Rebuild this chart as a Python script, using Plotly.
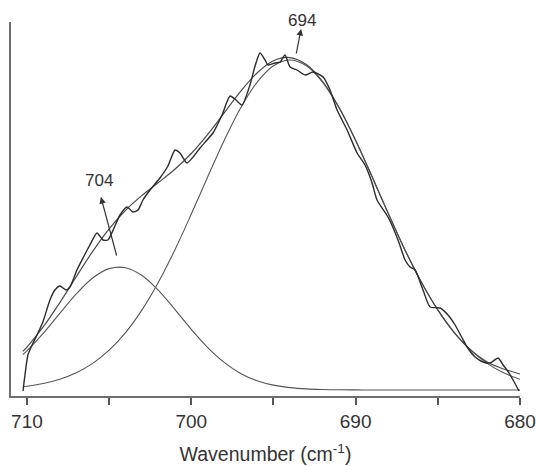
import plotly.graph_objects as go

# ---- data (intensity in arbitrary units) ----
raw_wn = [710.24, 710.12, 709.94, 709.63, 709.33, 709.03, 708.60, 708.30, 707.99, 707.63,
          707.38, 706.96, 706.59, 706.17, 705.74, 705.37, 705.07, 704.70, 704.34, 703.91,
          703.55, 703.24, 702.94, 702.51, 701.91, 701.42, 700.99, 700.69, 700.26, 699.84,
          699.47, 699.04, 698.68, 698.13, 697.64, 697.28, 696.91, 696.43, 696.12, 695.82,
          695.51, 695.33, 694.91, 694.60, 694.30, 693.99, 693.57, 693.08, 692.59, 691.98,
          691.56, 691.13, 690.52, 689.91, 689.43, 689.00, 688.70, 688.03, 687.42, 686.99,
          686.69, 686.38, 685.90, 685.47, 684.86, 684.38, 683.95, 683.52, 683.22, 682.73,
          682.25, 681.82, 681.33, 681.03, 680.79, 680.42, 680.06]
raw_int = [5, 21, 41, 53, 63, 74, 96, 106, 110, 106,
           109, 126, 138, 151, 163, 156, 156, 168, 181, 189,
           184, 186, 196, 206, 218, 230, 246, 243, 233, 240,
           248, 256, 263, 281, 300, 296, 291, 311, 330, 343,
           336, 331, 333, 334, 341, 329, 326, 321, 324, 319,
           306, 286, 266, 243, 231, 213, 196, 179, 156, 136,
           129, 126, 106, 89, 88, 81, 71, 58, 49, 39,
           34, 33, 38, 31, 26, 16, 5]

fit_wn = [710.25, 710, 709, 708, 707, 706, 705, 704, 703, 702, 701, 700, 699, 698, 697,
          696, 695, 694, 693, 692, 691, 690, 689, 688, 687, 686, 685, 684, 683, 682,
          681, 680]
fit_sum = [44.6, 48.9, 69.3, 93.3, 119.3, 144.6, 167.2, 185.7, 200.6, 213.5, 226.8, 242.5,
           261.6, 283.1, 304.6, 323.0, 335.2, 338.4, 331.4, 314.2, 288.2, 255.6, 219.2,
           181.9, 146.1, 113.8, 86.1, 63.4, 46.0, 34.0, 27.0, 22.0]
peak_704 = [41.3, 45.1, 62.8, 82.6, 102.1, 118.0, 127.4, 128.3, 120.5, 105.7, 86.7, 66.6,
            48.4, 33.6, 22.6, 15.3, 10.9, 8.4, 7.1, 6.5, 6.2, 6.1, 6.0, 6.0, 6.0, 6.0,
            6.0, 6.0, 6.0, 6.0, 6.0, 6.0]
peak_694 = [9.3, 9.8, 12.5, 16.7, 23.2, 32.6, 45.8, 63.4, 86.1, 113.8, 146.1, 181.9,
            219.2, 255.5, 288.0, 313.7, 330.3, 336.0, 330.3, 313.7, 288.0, 255.5, 219.2,
            181.9, 146.1, 113.8, 86.1, 63.4, 45.8, 32.6, 23.2, 16.7]

x_ticks = [710, 700, 690, 680]
x_tick_text = ["710", "700", "690", "680"]

fig = go.Figure()
for ys in (peak_704, peak_694):
    fig.add_trace(go.Scatter(x=fit_wn, y=ys, mode="lines",
                             line=dict(color="#555555", width=1.1, shape="spline"),
                             showlegend=False, hoverinfo="skip"))
fig.add_trace(go.Scatter(x=fit_wn, y=fit_sum, mode="lines",
                         line=dict(color="#4a4a4a", width=1.2, shape="spline"),
                         showlegend=False, hoverinfo="skip"))
fig.add_trace(go.Scatter(x=raw_wn, y=raw_int, mode="lines",
                         line=dict(color="#2b2b2b", width=1.4, shape="spline", smoothing=0.6),
                         showlegend=False, hoverinfo="skip"))

font_fam = "Liberation Sans, Arial, sans-serif"
fig.update_layout(
    width=536, height=466,
    margin=dict(l=11, r=16, t=22, b=70),
    paper_bgcolor="white", plot_bgcolor="white",
    font=dict(family=font_fam, color="#333333"),
    xaxis=dict(range=[710.97, 680], tickvals=x_ticks, ticktext=x_tick_text,
               automargin=False, ticklabeloverflow="allow",
               ticks="outside", ticklen=7, tickwidth=1.5, tickcolor="#555555",
               minor=dict(dtick=5, tick0=680, ticks="outside", ticklen=7, tickwidth=1.5,
                          tickcolor="#555555", showgrid=False),
               showline=True, linecolor="#6e6e6e", linewidth=2, mirror=False,
               showgrid=False, zeroline=False,
               tickfont=dict(size=19, color="#333333"),
               title=dict(text="Wavenumber (cm<sup>-1</sup>)",
                          font=dict(size=19.5, color="#333333"), standoff=17)),
    yaxis=dict(range=[0, 374], showticklabels=False, ticks="", automargin=False,
               showline=True, linecolor="#6e6e6e", linewidth=2, mirror=False,
               showgrid=False, zeroline=False),
)

ann_font = dict(size=17, color="#333333", family=font_fam)
fig.add_annotation(x=705.62, y=216, xref="x", yref="y", text="704", showarrow=False, font=ann_font)
fig.add_annotation(x=693.29, y=1.0027, xref="x", yref="paper", text="694", showarrow=False,
                   yanchor="middle", xanchor="center", font=ann_font)
fig.add_annotation(x=705.50, y=199, ax=704.52, ay=139, xref="x", yref="y", axref="x", ayref="y",
                   text="", showarrow=True, arrowhead=2, arrowsize=1.1, arrowwidth=1.2,
                   arrowcolor="#333333", standoff=0, startstandoff=0)
fig.add_annotation(x=693.32, y=367, ax=693.63, ay=341, xref="x", yref="y", axref="x", ayref="y",
                   text="", showarrow=True, arrowhead=2, arrowsize=1.1, arrowwidth=1.2,
                   arrowcolor="#333333", standoff=0, startstandoff=0)

fig.write_html("out.html")
